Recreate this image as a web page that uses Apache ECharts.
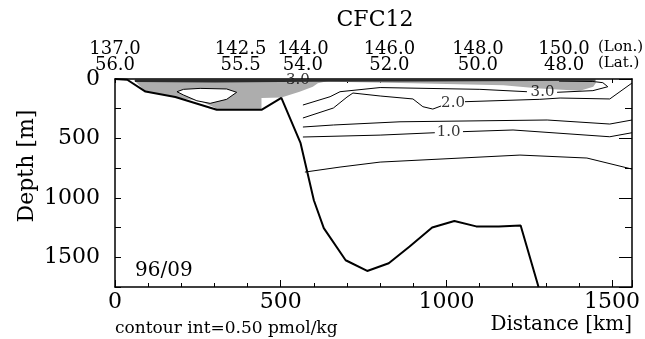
<!DOCTYPE html>
<html><head><meta charset="utf-8">
<script src="https://cdn.jsdelivr.net/npm/echarts@6/dist/echarts.min.js"></script>
<style>html,body{margin:0;padding:0;background:#fff}#c{width:645px;height:339px}</style>
</head><body><div id="c"></div>
<script>
// ---- data (distance km, depth m) ----
const distTicks = [0, 500, 1000, 1500];
const depthTicks = [0, 500, 1000, 1500];
const stationDist = [0, 379, 567, 828, 1095, 1355];
const stationLon = ['137.0', '142.5', '144.0', '146.0', '148.0', '150.0'];
const stationLat = ['56.0', '55.5', '54.0', '52.0', '50.0', '48.0'];
const topoDist  = [0, 37, 92, 182, 307, 442, 502, 560, 600, 630, 696, 761, 826, 889, 957, 1024, 1090, 1158, 1224, 1278];
const topoDepth = [0, 6, 106, 152, 259, 259, 158, 540, 1020, 1255, 1525, 1615, 1550, 1410, 1250, 1195, 1240, 1242, 1233, 1750];
const grayLeft = [[57,8],[92,108],[182,155],[257,185],[300,240],[307,258],[442,258],[442,160],[502,155],[557,107],[597,65],[612,35],[650,12],[57,8]];
const bubble = [[187,107],[207,87],[257,79],[337,84],[367,112],[337,171],[287,205],[247,183],[207,135]];
const grayRight = [[600,8],[1440,8],[1452,30],[1443,65],[1403,98],[1282,80],[1172,52],[900,35],[700,25],[600,15]];
const surfaceBand = [[60,0],[1450,0],[1450,14],[900,20],[600,24],[300,30],[60,26]];
const c30 = [[567,219],[649,149],[679,107],[800,72],[1101,87],[1243,107],null,[1334,112],[1442,98],[1487,65],[1472,31],[1442,21],[1340,18]];
const c20 = [[567,328],[659,244],[700,152],[718,118],[800,143],[899,168],[929,233],[959,253],[984,227],null,[1056,191],[1282,171],[1343,160],[1493,168],[1560,34]];
const c15 = [[567,404],[659,387],[860,360],[1304,345],[1493,379],[1560,345]];
const c10 = [[567,488],[800,472],[965,452],null,[1050,443],[1201,429],[1493,486],[1560,452]];
const c05 = [[573,783],[679,741],[800,699],[1222,640],[1424,665],[1560,758]];
const contourLabels = [[1290,108,'3.0'],[1020,205,'2.0'],[1007,445,'1.0'],[552,12,'3.0']];
const topMinorTicks = [0,100,200,300,400,500,600,700,800,900,1000,1100,1200,1300,1400,1500];

const FONT = 'DejaVu Serif';
const chart = echarts.init(document.getElementById('c'), null, {renderer: 'canvas'});

function polySeries(points, color, z) {
  return {
    type: 'custom', xAxisIndex: 0, yAxisIndex: 0, data: points, z: z, silent: true, clip: true,
    renderItem: function (params, api) {
      if (params.dataIndex !== 0) return;
      const pts = points.map(p => api.coord(p));
      return {type: 'polygon', shape: {points: pts}, style: {fill: color}};
    }
  };
}
function lineSeries(points, width, z) {
  return {type: 'line', data: points, symbol: 'none', connectNulls: false, z: z, silent: true,
    lineStyle: {color: '#000', width: width}, clip: true};
}
const topo = topoDist.map((d, i) => [d, topoDepth[i]]);
const plain = v => String(v);

chart.setOption({
  animation: false,
  grid: {left: 115, right: 13, top: 79, bottom: 52},
  xAxis: [{
    type: 'value', position: 'bottom', min: 0, max: 1560, interval: 500,
    axisLine: {onZero: false, lineStyle: {color: '#000', width: 1.5}},
    axisTick: {inside: true, length: 7, lineStyle: {color: '#000'}},
    minorTick: {show: true, splitNumber: 5, length: 4, lineStyle: {color: '#000'}},
    axisLabel: {fontFamily: FONT, fontSize: 22, color: '#000', margin: 4, formatter: plain,
      customValues: distTicks},
    splitLine: {show: false}
  }, {
    type: 'value', position: 'top', min: 0, max: 1560,
    axisLine: {onZero: false, lineStyle: {color: '#000', width: 1.5}},
    axisTick: {inside: true, length: 4, lineStyle: {color: '#000'}, customValues: topMinorTicks},
    axisLabel: {customValues: stationDist, margin: 6, color: '#000', fontFamily: FONT, fontSize: 18, lineHeight: 16,
      formatter: function (v) { const i = stationDist.indexOf(v); return stationLon[i] + '\n' + stationLat[i]; }},
    splitLine: {show: false}
  }],
  yAxis: [{
    type: 'value', inverse: true, min: 0, max: 1750, interval: 500, position: 'left',
    axisLine: {onZero: false, lineStyle: {color: '#000', width: 1.5}},
    axisTick: {inside: true, length: 6, lineStyle: {color: '#000'}},
    minorTick: {show: true, splitNumber: 2, length: 6, lineStyle: {color: '#000'}},
    axisLabel: {fontFamily: FONT, fontSize: 22, color: '#000', margin: 15, formatter: plain,
      customValues: depthTicks},
    splitLine: {show: false}
  }, {
    type: 'value', inverse: true, min: 0, max: 1750, interval: 500, position: 'right',
    axisLine: {onZero: false, lineStyle: {color: '#000', width: 1.5}},
    axisTick: {inside: true, length: 13, lineStyle: {color: '#000'}},
    minorTick: {show: true, splitNumber: 2, length: 7, lineStyle: {color: '#000'}},
    axisLabel: {show: false}, splitLine: {show: false}
  }],
  series: [
    polySeries(grayLeft, '#adadad', 1),
    polySeries(bubble, '#ffffff', 2),
    polySeries(grayRight, '#adadad', 1),
    {type: 'line', data: bubble.concat([bubble[0]]), symbol: 'none', z: 3, silent: true,
      lineStyle: {color: '#000', width: 1}},
    lineSeries(c30, 1, 4), lineSeries(c20, 1, 4), lineSeries(c15, 1, 4),
    lineSeries(c10, 1, 4), lineSeries(c05, 1, 4),
    {type: 'scatter', data: contourLabels, symbolSize: 0, z: 5, silent: true,
      label: {show: true, position: 'inside', formatter: p => p.value[2],
        fontFamily: FONT, fontSize: 15, color: '#000'}},
    polySeries(surfaceBand, '#2a2a2a', 6),
    lineSeries(topo, 2, 7)
  ],
  graphic: [
    {type: 'text', x: 375, y: 20, style: {text: 'CFC12', font: '22px "DejaVu Serif"', fill: '#000', align: 'center', verticalAlign: 'middle'}},
    {type: 'text', x: 598, y: 47, style: {text: '(Lon.)', font: '15px "DejaVu Serif"', fill: '#000', align: 'left', verticalAlign: 'middle'}},
    {type: 'text', x: 598, y: 63, style: {text: '(Lat.)', font: '15px "DejaVu Serif"', fill: '#000', align: 'left', verticalAlign: 'middle'}},
    {type: 'text', x: 135, y: 271, style: {text: '96/09', font: '20px "DejaVu Serif"', fill: '#000', align: 'left', verticalAlign: 'middle'}},
    {type: 'text', x: 115, y: 329, style: {text: 'contour int=0.50 pmol/kg', font: '17px "DejaVu Serif"', fill: '#000', align: 'left', verticalAlign: 'middle'}},
    {type: 'text', x: 632, y: 325, style: {text: 'Distance [km]', font: '20px "DejaVu Serif"', fill: '#000', align: 'right', verticalAlign: 'middle'}},
    {type: 'text', x: 27, y: 166, rotation: Math.PI / 2, style: {text: 'Depth [m]', font: '22px "DejaVu Serif"', fill: '#000', align: 'center', verticalAlign: 'middle'}}
  ]
});
</script></body></html>
